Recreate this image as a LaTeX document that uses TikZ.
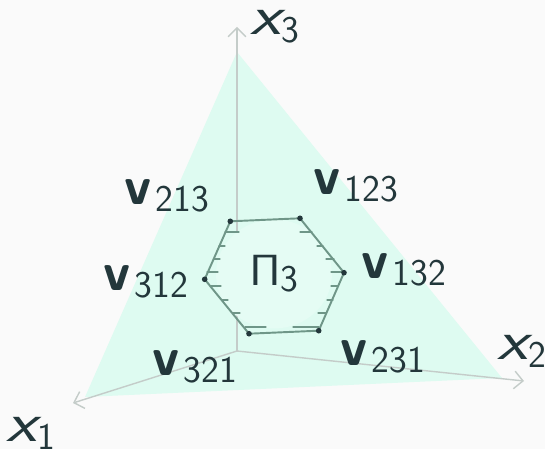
\documentclass[tikz,border=0pt]{standalone}
\usetikzlibrary{arrows.meta,shapes.geometric}
\definecolor{pagebg}{HTML}{FAFAFA}
\definecolor{planefill}{HTML}{DEFBF1}
\definecolor{axisgray}{HTML}{C4CCC9}
\definecolor{hexline}{HTML}{6F9688}
\definecolor{inkdark}{HTML}{23373B}
\newcommand{\xlab}[1]{\scalebox{1.25}[1]{\fontsize{32}{32}\selectfont\itshape x}\raisebox{-4.5pt}{\fontsize{21.5}{22}\selectfont #1}}
\newcommand{\vlab}[1]{{\fontsize{31}{31}\selectfont\bfseries v}\hspace{2pt}\raisebox{-3.8pt}{\fontsize{21.5}{22}\selectfont #1}}
\tikzset{
	axisline/.style={axisgray, line width=0.8pt, -{Straight Barb[length=5pt,width=10pt]}},
	hexedge/.style={hexline, line width=1.1pt},
	hatch/.style={hexline, line width=0.6pt},
	vdot/.style={circle, fill=inkdark, inner sep=0pt, minimum size=3.2pt},
	lab/.style={inkdark, inner sep=0pt, font=\sffamily},
}
\begin{document}
\begin{tikzpicture}[x=0.02cm, y=-0.02cm, line join=round, line cap=round]
	\fill[pagebg] (0,0) rectangle (545,449);
	\useasboundingbox (0,0) rectangle (545,449);
	\coordinate (O) at (237,351);
	\coordinate (T3) at (237,52);
	\coordinate (T1) at (85,397);
	\coordinate (T2) at (502,378);
	\coordinate (E1) at (73,403);
	\coordinate (E2) at (524,381);
	\coordinate (E3) at (237,27);
	\coordinate (P213) at (230.3,221.3);
	\coordinate (P123) at (300,218.3);
	\coordinate (P132) at (344,272.7);
	\coordinate (P231) at (318.7,330.7);
	\coordinate (P321) at (249,333.7);
	\coordinate (P312) at (204.7,279.3);
	\fill[planefill] (T1) -- (T2) -- (T3) -- cycle;
	\draw[axisline] (O) -- (E1);
	\draw[axisline] (O) -- (E2);
	\draw[axisline] (O) -- (E3);
	% interior of the hexagon hides the axis
	\node[ellipse, fill=planefill!80!white, minimum width=66pt, minimum height=62pt, inner sep=0pt] (core) at (274,274) {};
	\draw[hexedge] (P213) -- (P123) -- (P132) -- (P231) -- (P321) -- (P312) -- cycle;
	\foreach \xa/\xb/\y in {225/239/232, 219/225/246, 214/220/259, 207/218/272, 210/221/286, 222/228/300, 233/240/313, 245/266/327, 300/312/232, 317/323/246, 326/334/259, 331/343/272, 331/338/286, 327/333/300, 318/326/313, 293/319/327}
		\draw[hatch] (\xa,\y) -- (\xb,\y);
	\foreach \p/\name in {P213/d213, P123/d123, P132/d132, P231/d231, P321/d321, P312/d312}
		\node[vdot] (\name) at (\p) {};
	\node[lab] (lab3) at (275,27) {\xlab{3}};
	\node[lab] (lab2) at (522,351) {\xlab{2}};
	\node[lab] (lab1) at (31,433) {\xlab{1}};
	\node[lab] (v213) at (167,196) {\vlab{213}};
	\node[lab] (v123) at (356,186) {\vlab{123}};
	\node[lab] (v132) at (404,270) {\vlab{132}};
	\node[lab] (v312) at (146,282) {\vlab{312}};
	\node[lab] (v321) at (195,367) {\vlab{321}};
	\node[lab] (v231) at (383,357) {\vlab{231}};
	\node[lab] (pi3) at (274,274) {\scalebox{1.08}[1]{\fontsize{42}{42}\fontencoding{OT1}\fontfamily{cmss}\selectfont\char"05}\raisebox{-3.5pt}{\fontsize{21.5}{22}\selectfont 3}};
\end{tikzpicture}
\end{document}
